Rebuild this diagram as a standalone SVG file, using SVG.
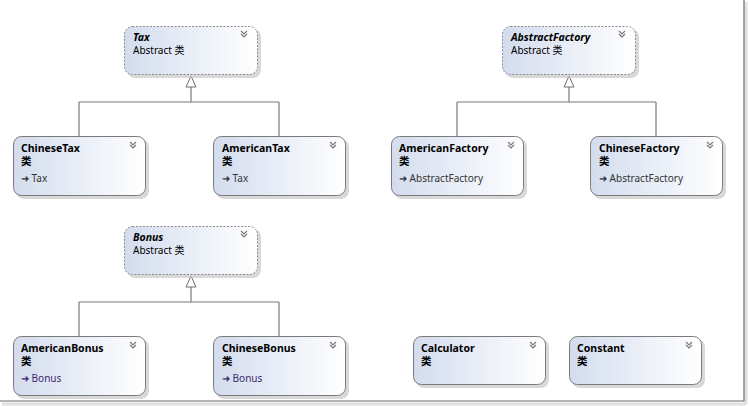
<svg xmlns="http://www.w3.org/2000/svg" width="749" height="407" viewBox="0 0 749 407">
<defs>
<linearGradient id="g" x1="0" y1="0" x2="1" y2="0">
<stop offset="0" stop-color="#d3dcee"/>
<stop offset="1" stop-color="#ffffff"/>
</linearGradient>
<g id="chev"><path d="M-3,-3 L0,0 L3,-3 M-3,0 L0,3 L3,0" fill="none" stroke="#777" stroke-width="1.1"/></g>
<path id="tri" d="M0,0 L5,11 L-5,11 Z" fill="#fff" stroke="#6e6e6e" stroke-width="1"/>
</defs>
<style>
.box{fill:url(#g);stroke:#7a7a7a;stroke-width:1}
.abs{fill:url(#g);stroke:#8a8a8a;stroke-width:1;stroke-dasharray:2 1.5}
.sh{fill:#c8c8c8;opacity:0.7}
.t{font-family:"Noto Sans","Liberation Sans","Noto Sans CJK SC",sans-serif;font-size:10.5px;font-weight:bold;fill:#000}
.ti{font-style:italic}
.s{font-family:"Noto Sans","Liberation Sans","Noto Sans CJK SC",sans-serif;font-size:10px;fill:#000}
.b{font-family:"Noto Sans","Liberation Sans","Noto Sans CJK SC",sans-serif;font-size:10px;fill:#333}
.bp{fill:#3b2a72}
.ln{fill:none;stroke:#7a7a7a;stroke-width:1.2}
.frame{fill:none;stroke:#6a6a6a;stroke-width:1.2}
</style>
<rect width="749" height="407" fill="#fff"/>
<path d="M746,2 V404 M2,404 H746" stroke="#e0e0e0" stroke-width="3" fill="none"/>
<path d="M744,0 V401 H0" class="frame"/>

<g id="connectors">
<path class="ln" d="M191,87 V102 M79,102 H279 M79,102 V136 M279,102 V136"/>
<use href="#tri" x="191" y="76"/>
<path class="ln" d="M569,87 V102 M457,102 H656 M457,102 V136 M656,102 V136"/>
<use href="#tri" x="569" y="76"/>
<path class="ln" d="M191,287 V302 M79,302 H279 M79,302 V336 M279,302 V336"/>
<use href="#tri" x="191" y="276"/>
</g>

<g id="Tax">
<rect class="sh" x="127" y="29" width="134" height="49" rx="8"/>
<rect class="abs" x="124.5" y="26.5" width="133" height="48" rx="8"/>
<text class="t ti" x="133" y="41">Tax</text>
<text class="s" x="133" y="54">Abstract 类</text>
<use href="#chev" x="244" y="34"/>
</g>

<g id="ChineseTax">
<rect class="sh" x="16" y="139" width="133" height="60" rx="8"/>
<rect class="box" x="13.5" y="136.5" width="132" height="59" rx="8"/>
<text class="t" x="21" y="152">ChineseTax</text>
<text class="t" x="21" y="165">类</text>
<text class="b" x="21" y="182">➜ Tax</text>
<use href="#chev" x="133" y="145"/>
</g>

<g id="AmericanTax">
<rect class="sh" x="216" y="139" width="133" height="60" rx="8"/>
<rect class="box" x="213.5" y="136.5" width="132" height="59" rx="8"/>
<text class="t" x="222" y="152">AmericanTax</text>
<text class="t" x="222" y="165">类</text>
<text class="b" x="222" y="182">➜ Tax</text>
<use href="#chev" x="333" y="145"/>
</g>

<g id="AbstractFactory">
<rect class="sh" x="505" y="29" width="134" height="49" rx="8"/>
<rect class="abs" x="502.5" y="26.5" width="133" height="48" rx="8"/>
<text class="t ti" x="511" y="41">AbstractFactory</text>
<text class="s" x="511" y="54">Abstract 类</text>
<use href="#chev" x="622" y="34"/>
</g>

<g id="AmericanFactory">
<rect class="sh" x="394" y="139" width="133" height="60" rx="8"/>
<rect class="box" x="391.5" y="136.5" width="132" height="59" rx="8"/>
<text class="t" x="399" y="152">AmericanFactory</text>
<text class="t" x="399" y="165">类</text>
<text class="b" x="399" y="182">➜ AbstractFactory</text>
<use href="#chev" x="511" y="145"/>
</g>

<g id="ChineseFactory">
<rect class="sh" x="593" y="139" width="133" height="60" rx="8"/>
<rect class="box" x="590.5" y="136.5" width="132" height="59" rx="8"/>
<text class="t" x="599" y="152">ChineseFactory</text>
<text class="t" x="599" y="165">类</text>
<text class="b" x="599" y="182">➜ AbstractFactory</text>
<use href="#chev" x="710" y="145"/>
</g>

<g id="Bonus">
<rect class="sh" x="127" y="229" width="134" height="49" rx="8"/>
<rect class="abs" x="124.5" y="226.5" width="133" height="48" rx="8"/>
<text class="t ti" x="133" y="241">Bonus</text>
<text class="s" x="133" y="254">Abstract 类</text>
<use href="#chev" x="244" y="234"/>
</g>

<g id="AmericanBonus">
<rect class="sh" x="16" y="339" width="133" height="60" rx="8"/>
<rect class="box" x="13.5" y="336.5" width="132" height="59" rx="8"/>
<text class="t" x="21" y="352">AmericanBonus</text>
<text class="t" x="21" y="365">类</text>
<text class="b bp" x="21" y="382">➜ Bonus</text>
<use href="#chev" x="133" y="345"/>
</g>

<g id="ChineseBonus">
<rect class="sh" x="216" y="339" width="133" height="60" rx="8"/>
<rect class="box" x="213.5" y="336.5" width="132" height="59" rx="8"/>
<text class="t" x="222" y="352">ChineseBonus</text>
<text class="t" x="222" y="365">类</text>
<text class="b bp" x="222" y="382">➜ Bonus</text>
<use href="#chev" x="333" y="345"/>
</g>

<g id="Calculator">
<rect class="sh" x="416" y="339" width="133" height="49" rx="8"/>
<rect class="box" x="413.5" y="336.5" width="132" height="48" rx="8"/>
<text class="t" x="421" y="352">Calculator</text>
<text class="t" x="421" y="365">类</text>
<use href="#chev" x="533" y="345"/>
</g>

<g id="Constant">
<rect class="sh" x="572" y="339" width="133" height="49" rx="8"/>
<rect class="box" x="569.5" y="336.5" width="132" height="48" rx="8"/>
<text class="t" x="577" y="352">Constant</text>
<text class="t" x="577" y="365">类</text>
<use href="#chev" x="689" y="345"/>
</g>
</svg>
